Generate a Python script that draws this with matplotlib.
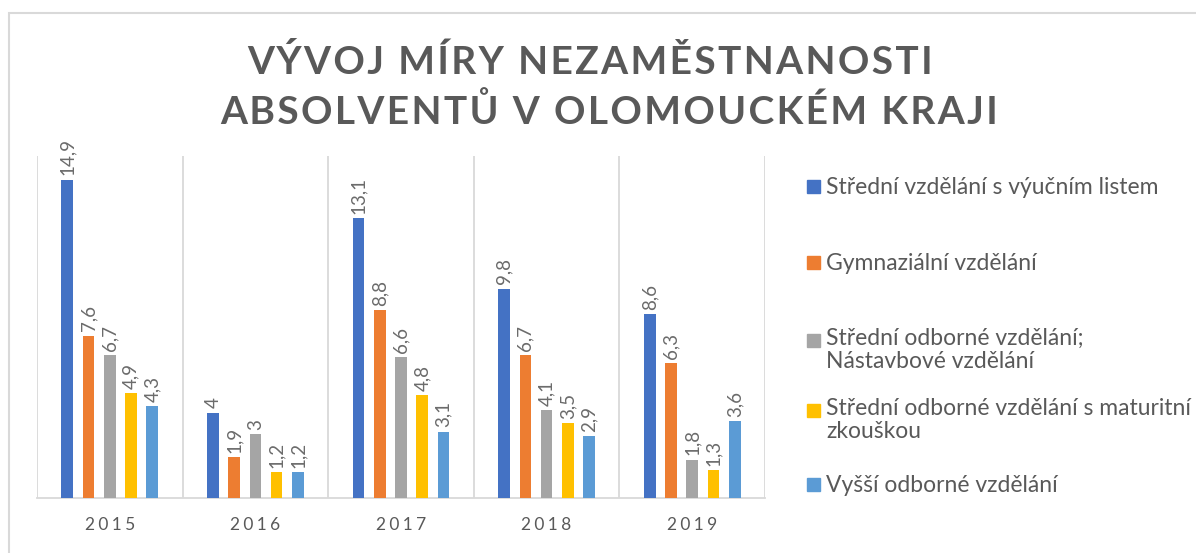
import matplotlib.pyplot as plt
import numpy as np
from matplotlib.patches import Rectangle

years = ["2015", "2016", "2017", "2018", "2019"]
series_names = [
    "Střední vzdělání s výučním listem",
    "Gymnaziální vzdělání",
    "Střední odborné vzdělání;\nNástavbové vzdělání",
    "Střední odborné vzdělání s maturitní\nzkouškou",
    "Vyšší odborné vzdělání",
]
vyucni = [14.9, 4, 13.1, 9.8, 8.6]
gymnazium = [7.6, 1.9, 8.8, 6.7, 6.3]
odborne_nastavba = [6.7, 3, 6.6, 4.1, 1.8]
odborne_maturita = [4.9, 1.2, 4.8, 3.5, 1.3]
vyssi_odborne = [4.3, 1.2, 3.1, 2.9, 3.6]
colors = ["#4472C4", "#ED7D31", "#A5A5A5", "#FFC000", "#5B9BD5"]

all_series = [vyucni, gymnazium, odborne_nastavba, odborne_maturita, vyssi_odborne]
txt = "#595959"
fam = ["Lato", "DejaVu Sans"]
HS = "\u200a"

fig = plt.figure(figsize=(11.96, 5.53), dpi=100)
W, H = 1196, 553
ax = fig.add_axes([37 / W, 1 - 498 / H, (765 - 37) / W, (498 - 156) / H])

x = np.arange(len(years))
step = 0.146
width = 0.08
for i, (vals, c) in enumerate(zip(all_series, colors)):
    pos = x + (i - 2) * step
    ax.bar(pos, vals, width=width, color=c, zorder=3)
    for p, v in zip(pos, vals):
        ax.text(p, v + 0.2, f"{v:g}".replace(".", ","), rotation=90,
                ha="center", va="bottom", color="#6b6b6b", fontsize=13.5, family=fam)

ax.set_xlim(-0.5, len(years) - 0.5)
ax.set_ylim(0, 16)
for b in np.arange(-0.5, len(years), 1):
    ax.axvline(b, color="#D9D9D9", lw=1.3, zorder=1)
ax.set_xticks(x)
ax.set_xticklabels([HS.join(HS.join(y)) for y in years], color=txt, fontsize=12.5, family=fam)
ax.tick_params(axis="x", length=0, pad=14)
ax.set_yticks([])
for s in ["top", "left", "right"]:
    ax.spines[s].set_visible(False)
ax.spines["bottom"].set_color("#D9D9D9")
ax.spines["bottom"].set_linewidth(1.3)

def spaced(s):
    return HS.join(s)

fig.text(590 / W, 1 - 62 / H, spaced("VÝVOJ MÍRY NEZAMĚSTNANOSTI"), ha="center", va="center",
         fontsize=28, fontweight="bold", color=txt, family=fam)
fig.text(609 / W, 1 - 112 / H, spaced("ABSOLVENTŮ V OLOMOUCKÉM KRAJI"), ha="center", va="center",
         fontsize=28, fontweight="bold", color=txt, family=fam)

# legend drawn manually
leg_y = [187, 263, 341, 411, 485]
for name, c, yy in zip(series_names, colors, leg_y):
    fig.patches.append(Rectangle((807 / W, 1 - (yy + 6) / H), 13 / W, 13 / H,
                                 transform=fig.transFigure, color=c))
    multi = "\n" in name
    fig.text(826 / W, 1 - (yy - 13 if multi else yy) / H, name, ha="left",
             va="top" if multi else "center",
             fontsize=16.5, color=txt, family=fam, linespacing=1.12)

fig.patches.append(Rectangle((9 / W, -0.1), 1.2, 1 - 13 / H + 0.1, transform=fig.transFigure,
                             fill=False, edgecolor="#D9D9D9", lw=1.5))

fig.savefig("out.png", dpi=100)
